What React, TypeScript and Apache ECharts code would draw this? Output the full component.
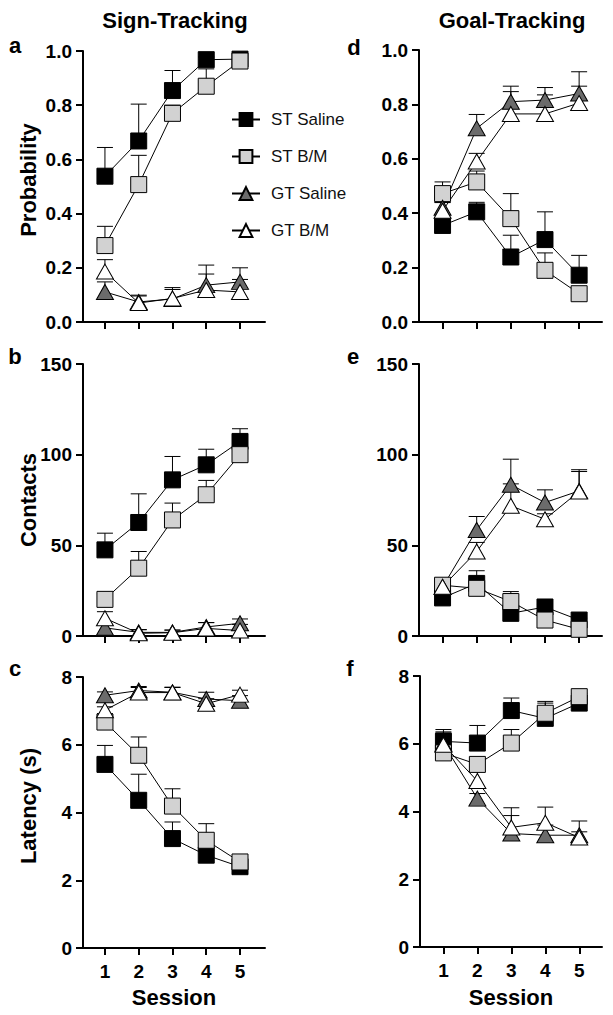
import React, { useEffect, useRef } from "react";
import * as echarts from "echarts";

const sessions = [1, 2, 3, 4, 5];
const seriesNames = ["ST Saline", "ST B/M", "GT Saline", "GT B/M"];
const panelTitles = ["Sign-Tracking", "Goal-Tracking"];
const yAxisTitles = ["Probability", "Contacts", "Latency (s)"];
const xAxisTitle = "Session";
const panelLetters = ["a", "b", "c", "d", "e", "f"];

// Panel a: Probability, Sign-Tracking
const aSTSaline = [0.538, 0.668, 0.854, 0.968, 0.97];
const aSTSalineSem = [0.106, 0.136, 0.074, 0.01, 0.01];
const aSTBM = [0.282, 0.507, 0.77, 0.87, 0.963];
const aSTBMSem = [0.071, 0.108, 0.03, 0.064, 0.015];
const aGTSaline = [0.111, 0.074, 0.085, 0.136, 0.148];
const aGTSalineSem = [0.037, 0.022, 0.035, 0.074, 0.052];
const aGTBM = [0.186, 0.07, 0.087, 0.118, 0.111];
const aGTBMSem = [0.044, 0.029, 0.04, 0.059, 0.046];

// Panel b: Contacts, Sign-Tracking
const bSTSaline = [47.5, 62.6, 86.1, 94.4, 107.3];
const bSTSalineSem = [9.2, 15.8, 12.9, 8.6, 7];
const bSTBM = [20.2, 37.4, 64, 77.9, 100];
const bSTBMSem = [3, 9.2, 9.3, 7.9, 3];
const bGTSaline = [4.5, 2, 2, 5, 7];
const bGTSalineSem = [2, 1.5, 1.2, 2.4, 2.4];
const bGTBM = [9.8, 1.5, 1.8, 4.2, 3];
const bGTBMSem = [3.6, 2, 1.5, 3.2, 3.4];

// Panel c: Latency, Sign-Tracking
const cSTSaline = [5.42, 4.36, 3.23, 2.74, 2.4];
const cSTSalineSem = [0.56, 0.77, 0.49, 0.15, 0.1];
const cSTBM = [6.67, 5.69, 4.19, 3.18, 2.54];
const cSTBMSem = [0.25, 0.54, 0.51, 0.49, 0.1];
const cGTSaline = [7.46, 7.6, 7.55, 7.35, 7.3];
const cGTSalineSem = [0.1, 0.12, 0.15, 0.2, 0.15];
const cGTBM = [7.02, 7.54, 7.54, 7.21, 7.48];
const cGTBMSem = [0.1, 0.15, 0.15, 0.15, 0.13];

// Panel d: Probability, Goal-Tracking
const dSTSaline = [0.355, 0.405, 0.239, 0.303, 0.172];
const dSTSalineSem = [0.02, 0.035, 0.08, 0.102, 0.073];
const dSTBM = [0.472, 0.515, 0.38, 0.19, 0.104];
const dSTBMSem = [0.043, 0.04, 0.092, 0.064, 0.02];
const dGTSaline = [0.42, 0.712, 0.81, 0.816, 0.84];
const dGTSalineSem = [0.02, 0.051, 0.057, 0.046, 0.08];
const dGTBM = [0.409, 0.59, 0.765, 0.765, 0.805];
const dGTBMSem = [0.03, 0.03, 0.082, 0.07, 0.062];

// Panel e: Contacts, Goal-Tracking
const eSTSaline = [21, 29, 12.5, 16, 8.8];
const eSTSalineSem = [2, 7, 2, 1.5, 1];
const eSTBM = [28, 26.3, 19, 8.8, 3.7];
const eSTBMSem = [3, 2, 5.5, 2, 1.5];
const eGTSaline = [27, 58.5, 83.4, 73.6, 80];
const eGTSalineSem = [3, 7.4, 14.1, 7, 11.7];
const eGTBM = [27.2, 46.6, 71.8, 64.4, 79.7];
const eGTBMSem = [3, 5, 12.1, 3, 11];

// Panel f: Latency, Goal-Tracking
const fSTSaline = [6.07, 6.02, 6.98, 6.75, 7.2];
const fSTSalineSem = [0.35, 0.52, 0.37, 0.5, 0.1];
const fSTBM = [5.73, 5.39, 6.02, 6.9, 7.39];
const fSTBMSem = [0.62, 0.15, 0.4, 0.3, 0.1];
const fGTSaline = [6.0, 4.38, 3.35, 3.3, 3.3];
const fGTSalineSem = [0.3, 0.15, 0.53, 0.3, 0.1];
const fGTBM = [5.97, 4.9, 3.53, 3.67, 3.23];
const fGTBMSem = [0.35, 0.3, 0.58, 0.46, 0.49];

const FONT = "'Liberation Sans', Arial, Helvetica, sans-serif";

const styles = [
  { symbol: "rect", size: 16, fill: "#000000" },
  { symbol: "rect", size: 16, fill: "#d2d2d2" },
  { symbol: "triangle", size: [17, 15], fill: "#6b6b6b" },
  { symbol: "triangle", size: [17, 15], fill: "#ffffff" },
];

export default function App() {
  const ref = useRef<HTMLDivElement>(null);
  useEffect(() => {
    if (!ref.current) return;
    const chart = echarts.init(ref.current, undefined, { renderer: "svg" });

    const panels = [
      { grid: { left: 83, top: 51, width: 182, height: 271 }, xMin: 0.35, xMax: 5.74, yMax: 1, yInt: 0.2, dec: 1, labels: false,
        data: [[aSTSaline, aSTSalineSem], [aSTBM, aSTBMSem], [aGTSaline, aGTSalineSem], [aGTBM, aGTBMSem]] },
      { grid: { left: 83, top: 364, width: 182, height: 272 }, xMin: 0.35, xMax: 5.74, yMax: 150, yInt: 50, dec: 0, labels: false,
        data: [[bSTSaline, bSTSalineSem], [bSTBM, bSTBMSem], [bGTSaline, bGTSalineSem], [bGTBM, bGTBMSem]] },
      { grid: { left: 83, top: 677, width: 182, height: 271 }, xMin: 0.35, xMax: 5.74, yMax: 8, yInt: 2, dec: 0, labels: true,
        data: [[cSTSaline, cSTSalineSem], [cSTBM, cSTBMSem], [cGTSaline, cGTSalineSem], [cGTBM, cGTBMSem]] },
      { grid: { left: 419, top: 50, width: 183, height: 272 }, xMin: 0.31, xMax: 5.67, yMax: 1, yInt: 0.2, dec: 1, labels: false,
        data: [[dSTSaline, dSTSalineSem], [dSTBM, dSTBMSem], [dGTSaline, dGTSalineSem], [dGTBM, dGTBMSem]] },
      { grid: { left: 419, top: 364, width: 183, height: 272 }, xMin: 0.31, xMax: 5.67, yMax: 150, yInt: 50, dec: 0, labels: false,
        data: [[eSTSaline, eSTSalineSem], [eSTBM, eSTBMSem], [eGTSaline, eGTSalineSem], [eGTBM, eGTBMSem]] },
      { grid: { left: 420, top: 676, width: 182, height: 271 }, xMin: 0.31, xMax: 5.67, yMax: 8, yInt: 2, dec: 0, labels: true,
        data: [[fSTSaline, fSTSalineSem], [fSTBM, fSTBMSem], [fGTSaline, fGTSalineSem], [fGTBM, fGTBMSem]] },
    ];

    const axisLineStyle = { color: "#000", width: 2 };
    const grids: any[] = [];
    const xAxes: any[] = [];
    const yAxes: any[] = [];
    const series: any[] = [];

    panels.forEach((p, i) => {
      grids.push({ ...p.grid, containLabel: false });
      xAxes.push({
        type: "value", gridIndex: i, min: p.xMin, max: p.xMax,
        axisLine: { show: true, onZero: false, lineStyle: axisLineStyle },
        axisTick: { show: true, length: 7, lineStyle: axisLineStyle, customValues: sessions },
        axisLabel: { show: p.labels, customValues: sessions, margin: 14, color: "#000", fontFamily: FONT, fontWeight: "bold", fontSize: 19 },
        splitLine: { show: false },
      });
      yAxes.push({
        type: "value", gridIndex: i, min: 0, max: p.yMax, interval: p.yInt,
        axisLine: { show: true, onZero: false, lineStyle: axisLineStyle },
        axisTick: { show: true, length: 7, lineStyle: axisLineStyle },
        axisLabel: { margin: 11, color: "#000", fontFamily: FONT, fontWeight: "bold", fontSize: 19,
          formatter: (v: number) => v.toFixed(p.dec) },
        splitLine: { show: false },
      });
      p.data.forEach(([vals, sems], k) => {
        const st = styles[k];
        series.push({
          type: "custom", name: "err-" + i + "-" + k, xAxisIndex: i, yAxisIndex: i,
          silent: true, encode: { x: 0, y: 1 },
          data: sessions.map((s, j) => [s, vals[j], sems[j]]),
          renderItem: (params: any, api: any) => {
            const x = api.value(0), y = api.value(1), e = api.value(2);
            const p0 = api.coord([x, y]);
            const p1 = api.coord([x, y + e]);
            const hw = 8;
            return {
              type: "group",
              children: [
                { type: "line", shape: { x1: p0[0], y1: p0[1], x2: p1[0], y2: p1[1] }, style: { stroke: "#000", lineWidth: 1 } },
                { type: "line", shape: { x1: p1[0] - hw, y1: p1[1], x2: p1[0] + hw, y2: p1[1] }, style: { stroke: "#000", lineWidth: 1 } },
              ],
            };
          },
        });
        series.push({
          type: "line", name: seriesNames[k], xAxisIndex: i, yAxisIndex: i,
          data: sessions.map((s, j) => [s, vals[j]]),
          symbol: st.symbol, symbolSize: st.size, showAllSymbol: true,
          lineStyle: { color: "#000", width: 1 },
          itemStyle: { color: st.fill, borderColor: "#000", borderWidth: 1, opacity: 1 },
          emphasis: { disabled: true },
        });
      });
    });

    const textBold = (text: string, x: number, y: number, size: number, rot = 0) => ({
      type: "text", x, y, rotation: rot,
      style: { text, fill: "#000", font: `bold ${size}px ${FONT}`, align: "center", verticalAlign: "middle" },
    });

    const graphic: any[] = [
      textBold(panelTitles[0], 175, 20, 22),
      textBold(panelTitles[1], 512, 20, 22),
      textBold(panelLetters[0], 15, 45, 22),
      textBold(panelLetters[1], 15, 356, 22),
      textBold(panelLetters[2], 15, 668, 22),
      textBold(panelLetters[3], 354, 47, 22),
      textBold(panelLetters[4], 353, 356, 22),
      textBold(panelLetters[5], 350, 668, 22),
      textBold(yAxisTitles[0], 28, 180, 22, Math.PI / 2),
      textBold(yAxisTitles[1], 28, 500, 22, Math.PI / 2),
      textBold(yAxisTitles[2], 28, 806, 22, Math.PI / 2),
      textBold(xAxisTitle, 174, 997, 22),
      textBold(xAxisTitle, 511, 997, 22),
    ];

    chart.setOption({
      animation: false,
      backgroundColor: "#fff",
      grid: grids,
      xAxis: xAxes,
      yAxis: yAxes,
      series,
      graphic,
      legend: {
        data: seriesNames,
        orient: "vertical",
        left: 226,
        top: 106,
        itemWidth: 28,
        itemHeight: 16,
        itemGap: 20,
        selectedMode: false,
        textStyle: { fontFamily: FONT, fontSize: 17, color: "#111", padding: [0, 0, 0, 6] },
      },
    });
    return () => chart.dispose();
  }, []);
  return <div ref={ref} style={{ position: "absolute", left: 0, top: 0, width: 613, height: 1015 }} />;
}
